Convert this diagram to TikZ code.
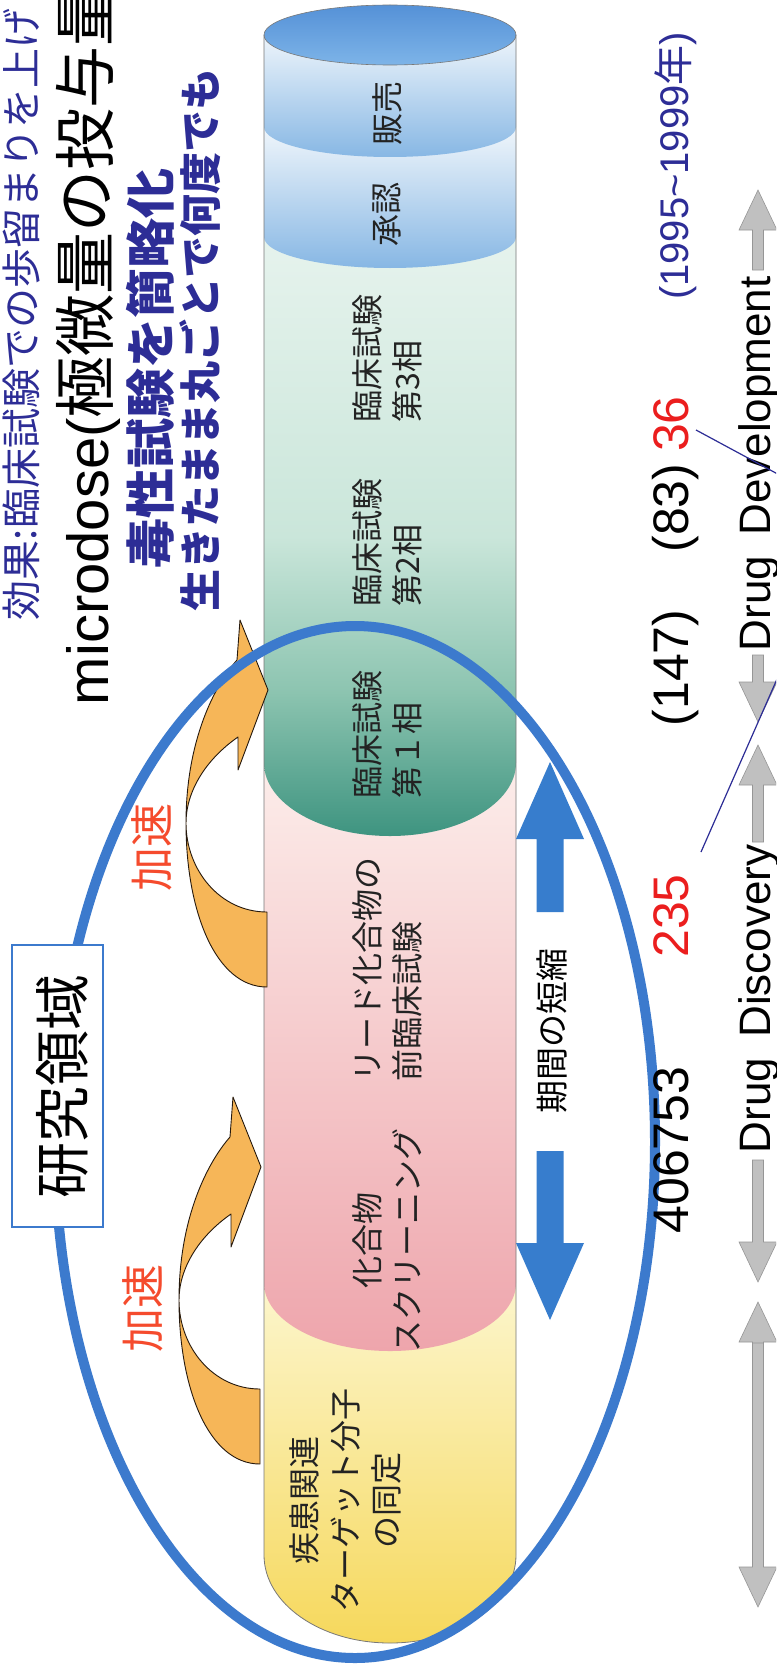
\documentclass[tikz,border=0pt]{standalone}
\usepackage{fontspec}
\setmainfont{Liberation Sans}
\newfontfamily\jp{Noto Sans CJK JP}
\definecolor{ttlblue}{RGB}{45,45,150}
\definecolor{ringblue}{RGB}{60,122,205}
\definecolor{arrblue}{RGB}{55,125,205}
\definecolor{accorange}{RGB}{246,182,88}
\definecolor{accred}{RGB}{245,75,45}
\definecolor{numred}{RGB}{235,30,30}
\definecolor{grayfill}{RGB}{192,192,192}
\definecolor{grayline}{RGB}{150,150,150}
\definecolor{cyltxt}{RGB}{35,35,35}
\definecolor{cylline}{RGB}{120,120,120}
\definecolor{gA}{RGB}{62,148,128}
\definecolor{gB}{RGB}{140,196,176}
\definecolor{gC}{RGB}{202,230,218}
\definecolor{gD}{RGB}{230,243,237}
\pgfdeclareverticalshading{greenband}{100bp}{color(0bp)=(gA); color(25bp)=(gA); color(37bp)=(gB); color(50bp)=(gC); color(75bp)=(gD); color(100bp)=(gD)}
\newcommand\grayup[2]{\filldraw[grayarr] (758,#1) -- (777,#1+40) -- (763.5,#1+40) -- (763.5,#2) -- (752.5,#2) -- (752.5,#1+40) -- (739,#1+40) -- cycle;}
\newcommand\graydown[2]{\filldraw[grayarr] (758,#1) -- (777,#1-40) -- (763.5,#1-40) -- (763.5,#2) -- (752.5,#2) -- (752.5,#1-40) -- (739,#1-40) -- cycle;}
\tikzset{
  lbl/.style={inner sep=0pt, outer sep=0pt, rotate=90},
  cyltext/.style={lbl, font=\jp\fontsize{32}{40}\selectfont, text=cyltxt, align=left},
  numtext/.style={lbl, anchor=base, font=\fontsize{50}{50}\selectfont},
  drugtext/.style={lbl, anchor=base west, font=\fontsize{44}{44}\selectfont, text=black},
  accel/.style={lbl, font=\jp\fontsize{44}{44}\selectfont, text=accred},
  grayarr/.style={fill=grayfill, draw=grayline, line width=0.6pt},
  seg/.style={draw=none},
  accstyle/.style={fill=accorange, draw=black!80!brown, line width=0.9pt, line join=round},
  ring/.style={draw=ringblue, line width=10pt},
  accarrow/.pic={
    \draw[accstyle] (0,0) -- (28,70) -- (-2,150) -- (-2,117)
      .. controls (-35,140) and (-54,172) .. (-54,203)
      .. controls (-54,250) and (-20,292) .. (27,292)
      -- (27,367)
      .. controls (-25,367) and (-54,290) .. (-54,203)
      .. controls (-54,120) and (-25,65) .. (-3,40) -- cycle;
  }
}
\begin{document}
\begin{tikzpicture}[x=1pt,y=-1pt]
\useasboundingbox (0,0) rectangle (776,1664);
\clip (0,0) rectangle (776,1664);
\fill[white] (0,0) rectangle (776,1664);

% ---------- cylinder ----------
\path[seg, top color={rgb,255:red,252;green,246;blue,205}, bottom color={rgb,255:red,246;green,216;blue,92}]
  (264,1283) -- (264,1555) arc[start angle=180, end angle=0, x radius=126, y radius=88] -- (516,1283) -- cycle;
\path[seg, top color={rgb,255:red,252;green,237;blue,234}, bottom color={rgb,255:red,238;green,165;blue,172}]
  (264,763) -- (264,1283) arc[start angle=180, end angle=0, x radius=126, y radius=68] -- (516,763) -- cycle;
\path[seg, shading=greenband]
  (264,237) -- (264,763) arc[start angle=180, end angle=0, x radius=126, y radius=73] -- (516,763) -- (516,237) -- cycle;
\path[seg, top color={rgb,255:red,240;green,246;blue,251}, bottom color={rgb,255:red,135;green,183;blue,228}]
  (264,127) -- (264,237) arc[start angle=180, end angle=0, x radius=126, y radius=31] -- (516,127) -- cycle;
\path[seg, top color={rgb,255:red,238;green,245;blue,251}, bottom color={rgb,255:red,135;green,183;blue,228}]
  (264,35) -- (264,127) arc[start angle=180, end angle=0, x radius=126, y radius=30] -- (516,35) -- cycle;
\path[draw=cylline, line width=0.6pt, top color={rgb,255:red,85;green,145;blue,215}, bottom color={rgb,255:red,125;green,180;blue,232}]
  (390,35) ellipse [x radius=126, y radius=30];
\draw[cylline, line width=0.8pt] (264,35) -- (264,1555) arc[start angle=180, end angle=0, x radius=126, y radius=88] -- (516,35);

\node[cyltext, anchor=center] (sales) at (387,114) {販売};
\node[cyltext, anchor=center] (approval) at (387,214) {承認};
\node[cyltext, anchor=west] (ph3) at (387,422) {臨床試験\\第3相};
\node[cyltext, anchor=west] (ph2) at (387,606) {臨床試験\\第2相};
\node[cyltext, anchor=west] (ph1) at (387,798) {臨床試験\\第１相};
\node[cyltext, anchor=west] (lead) at (387,1081) {リード化合物の\\前臨床試験};
\node[cyltext, anchor=center, align=center] (screen) at (387,1240) {化合物\\スクリーニング};
\node[cyltext, anchor=center, align=center, font=\jp\fontsize{32}{41}\selectfont] (target) at (345,1500) {疾患関連\\ターゲット分子\\の同定};

% ---------- orange arrows ----------
\pic (accA) at (240,620) {accarrow};
\pic (accB) at (233,1097) {accarrow};
\node[accel] (acc1) at (152,847) {加速};
\node[accel] (acc2) at (143,1308) {加速};

% ---------- research ring ----------
\draw[ring] (355,1142) ellipse [x radius=300, y radius=516];
\node[draw=ringblue, line width=1.2pt, fill=white, minimum width=91pt, minimum height=282pt, inner sep=0pt] (areabox) at (57.5,1086) {};
\node[lbl, font=\jp\fontsize{56}{56}\selectfont] (area) at (62,1086) {研究領域};

% ---------- titles ----------
\node[lbl, anchor=base west, text=ttlblue, font=\jp\fontsize{40}{40}\selectfont] (t1) at (36,620) {効果:臨床試験での歩留まりを上げ};
\node[lbl, anchor=base west, text=black] (t2) at (108,705) {\fontsize{58}{58}\selectfont microdose(\jp\fontsize{62}{62}\selectfont 極微量の投与量};
\node[lbl, anchor=base, text=ttlblue, font=\jp\bfseries\fontsize{50}{50}\selectfont] (t3) at (169,368) {毒性試験を簡略化};
\node[lbl, anchor=base, text=ttlblue, font=\jp\bfseries\fontsize{42}{42}\selectfont] (t4) at (216,340) {生きたまま丸ごとで何度でも};

% ---------- shortening arrow ----------
\fill[arrblue] (550,762) -- (584,839) -- (563.5,839) -- (563.5,912) -- (536.5,912) -- (536.5,839) -- (516,839) -- cycle;
\fill[arrblue] (550,1320) -- (584,1243) -- (563.5,1243) -- (563.5,1151) -- (536.5,1151) -- (536.5,1243) -- (516,1243) -- cycle;
\node[lbl, font=\jp\fontsize{33}{33}\selectfont] (short) at (552,1031) {期間の短縮};

% ---------- numbers ----------
\node[numtext, text=black] (n406) at (688,1150) {406753};
\node[numtext, text=numred] (n235) at (688,916) {235};
\node[numtext, text=black] (n147) at (688,668) {(147)};
\node[numtext, text=black] (n83) at (688,508) {(83)};
\node[numtext, text=numred] (n36) at (688,424) {36};
\node[lbl, anchor=base, text=ttlblue, font=\fontsize{40}{40}\selectfont] (years) at (688,166) {(1995\char`\~1999{\jp 年})};

% ---------- bottom row ----------
\grayup{1302}{1565}
\graydown{1607}{1343}
\graydown{1282}{1160}
\grayup{745}{842}
\graydown{722}{655}
\grayup{190}{270}
\node[drugtext] (disc) at (770,1153) {Drug\hspace{20pt}Discovery};
\node[drugtext] (devel) at (770,651) {Drug\hspace{20pt}Development};

\coordinate (vtx) at (850,513);
\coordinate (la) at (701,852);
\coordinate (lb) at (696,430);
\draw[ttlblue, line width=1.2pt] (la) -- (vtx) -- (lb);
\end{tikzpicture}
\end{document}
